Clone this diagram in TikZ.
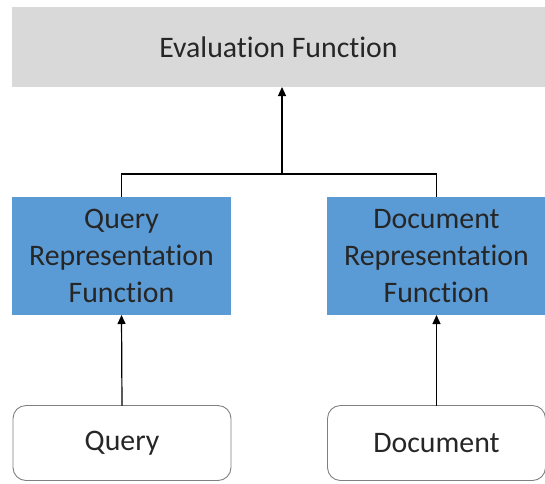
\documentclass[tikz,border=0pt]{standalone}
\usepackage{fontspec}
\setmainfont{Carlito}[Ligatures=NoCommon]
\usetikzlibrary{arrows.meta}
\definecolor{evalgray}{HTML}{D9D9D9}
\definecolor{repblue}{HTML}{5B9BD5}
\definecolor{txt}{HTML}{262626}
\definecolor{bordergray}{HTML}{7F7F7F}
\begin{document}
\begin{tikzpicture}[x=1pt,y=-1pt,
  every node/.style={inner sep=0pt, outer sep=0pt, text=txt, font=\fontsize{29.8}{37}\selectfont, align=center},
  evalbox/.style={fill=evalgray, minimum width=533pt, minimum height=80pt},
  repbox/.style={fill=repblue, minimum width=219pt, minimum height=118pt},
  inbox/.style={draw=bordergray, line width=0.9pt, fill=white, rounded corners=13pt, minimum width=218pt, minimum height=75pt},
  conn/.style={draw=black, line width=1.2pt},
  arr/.style={conn, -{Triangle[width=8pt,length=9pt]}}
]
\useasboundingbox (0,0) rectangle (545,483);
\node[evalbox] (eval) at (278.5,47) {Evaluation Function};
\node[repbox] (qrep) at (121.5,256) {Query\\Representation\\Function};
\node[repbox] (drep) at (436.5,256) {Document\\Representation\\Function};
\node[inbox] (query) at (122,443) {Query};
\node[inbox] (doc) at (436.5,443) {Document};
\coordinate (join) at (282,174);
\draw[conn] (qrep.north) -- (qrep.north |- join) -- (drep.north |- join) -- (drep.north);
\draw[arr] (join) -- (join |- eval.south);
\draw[arr] (query.north) -- (qrep.south);
\draw[arr] (doc.north) -- (drep.south);
\end{tikzpicture}
\end{document}
